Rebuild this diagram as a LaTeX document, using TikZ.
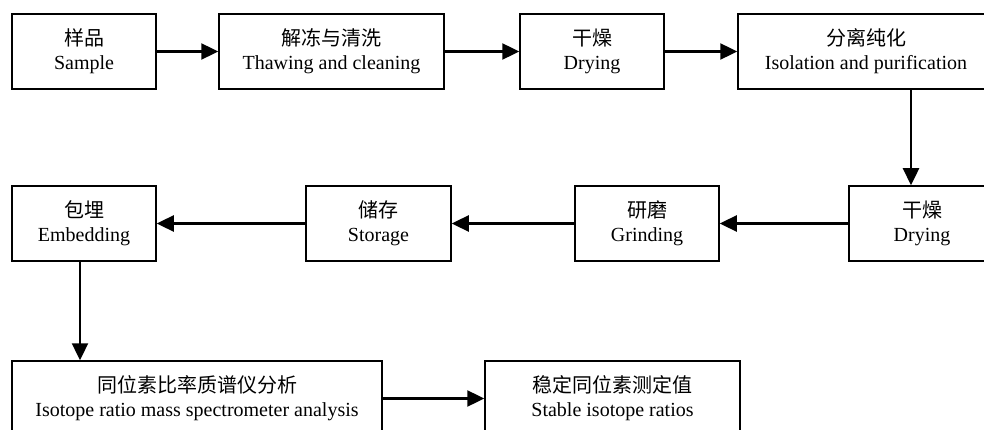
\documentclass[tikz,border=0pt]{standalone}
\usepackage{fontspec}
\setmainfont{Liberation Serif}
\newfontfamily\cjk{Noto Sans CJK SC}
\usetikzlibrary{arrows.meta}
\begin{document}
\begin{tikzpicture}[x=1pt,y=-1pt,
  box/.style={draw=black,line width=1.5pt,fill=white,minimum height=75pt,inner sep=0pt,
    align=center,font=\fontsize{20}{24}\selectfont},
  arr/.style={line width=2.4pt,-{Triangle[length=17pt,width=16pt]}}]
\clip (0,0) rectangle (984,430);
\fill[white] (0,0) rectangle (984,430);
% row 1
\node[box,minimum width=144pt] (b1) at (84,51.5) {{\cjk 样品}\\Sample};
\node[box,minimum width=225pt] (b2) at (331.5,51.5) {{\cjk 解冻与清洗}\\Thawing and cleaning};
\node[box,minimum width=144pt] (b3) at (592,51.5) {{\cjk 干燥}\\Drying};
\node[box,minimum width=256pt] (b4) at (866,51.5) {{\cjk 分离纯化}\\Isolation and purification};
% row 2
\node[box,minimum width=144pt] (b5) at (84,223.5) {{\cjk 包埋}\\Embedding};
\node[box,minimum width=145pt] (b6) at (378.5,223.5) {{\cjk 储存}\\Storage};
\node[box,minimum width=144pt] (b7) at (647,223.5) {{\cjk 研磨}\\Grinding};
\node[box,minimum width=146pt] (b8) at (922,223.5) {{\cjk 干燥}\\Drying};
% row 3
\node[box,minimum width=370pt] (b9) at (197,398.5) {{\cjk 同位素比率质谱仪分析}\\Isotope ratio mass spectrometer analysis};
\node[box,minimum width=255pt] (b10) at (612.5,398.5) {{\cjk 稳定同位素测定值}\\Stable isotope ratios};
% connectors
\coordinate (xa) at (911,0);
\coordinate (xb) at (80,0);
\draw[arr] (b1.east) -- (b2.west);
\draw[arr] (b2.east) -- (b3.west);
\draw[arr] (b3.east) -- (b4.west);
\draw[arr] (b4.south -| xa) -- (b8.north -| xa);
\draw[arr] (b8.west) -- (b7.east);
\draw[arr] (b7.west) -- (b6.east);
\draw[arr] (b6.west) -- (b5.east);
\draw[arr] (b5.south -| xb) -- (b9.north -| xb);
\draw[arr] (b9.east) -- (b10.west);
\end{tikzpicture}
\end{document}
